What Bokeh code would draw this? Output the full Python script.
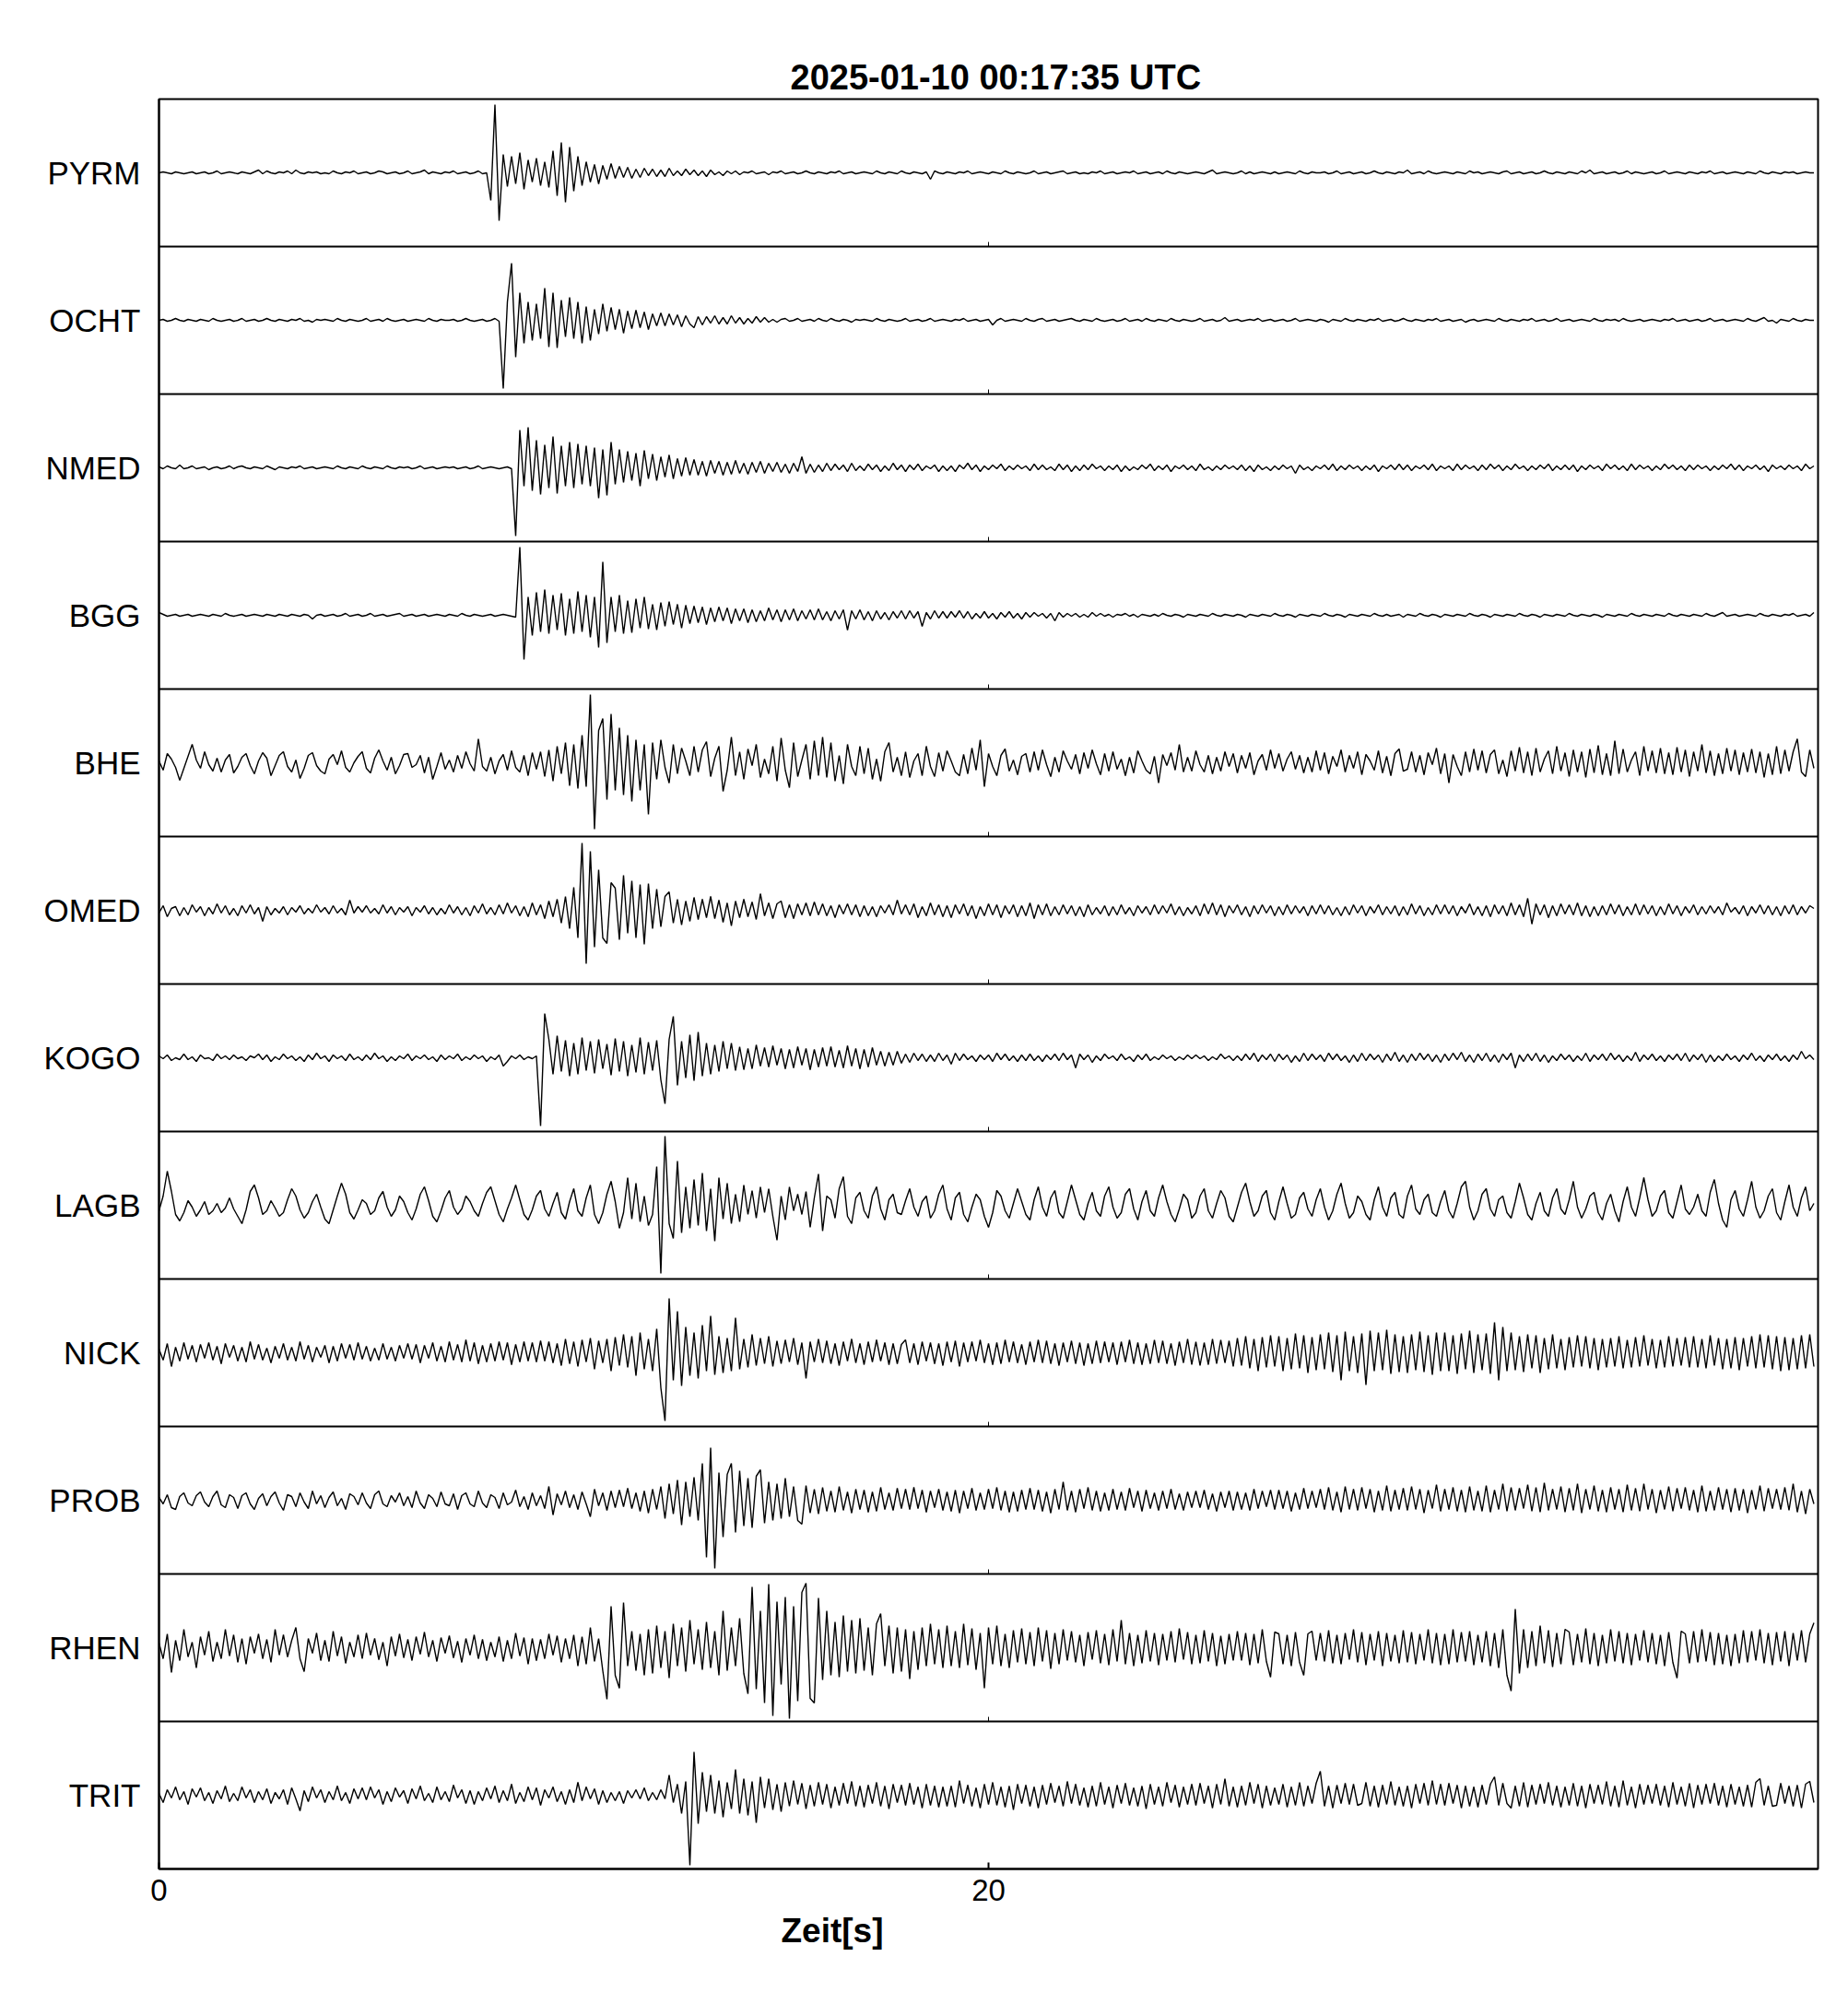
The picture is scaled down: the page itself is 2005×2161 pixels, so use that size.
import numpy as np
from bokeh.plotting import figure
from bokeh.models import FixedTicker, Span, Title, ColumnDataSource
from bokeh.embed import file_html
from bokeh.resources import INLINE

# ---------------- data ----------------
TITLE = "2025-01-10  00:17:35 UTC"
XLABEL = "Zeit[s]"
DT = 0.1            # sample interval [s]
HALF = 80           # amplitudes are given in units where 80 = half a panel
X_TICKS = [0, 20]

STATIONS = ["PYRM", "OCHT", "NMED", "BGG", "BHE", "OMED",
            "KOGO", "LAGB", "NICK", "PROB", "RHEN", "TRIT"]

PYRM = [0,1,0,-1,1,0,-1,0,1,-1, 0,1,-1,0,2,-1,0,1,0,-1, 1,0,-1,1,3,-1,2,0,-1,1, 0,2,-1,3,0,-1,1,0,1,-1,
        0,-1,2,0,-1,1,0,2,-1,0, 1,-1,0,2,1,-1,0,1,-1,0, 2,-1,0,1,3,-1,1,0,-1,1, 0,2,-1,0,1,-1,0,2,-1,0,
        -30,74,-52,20,-15,18,-12,22,-18,14, -10,16,-14,12,-16,24,-25,33,-32,28, -20,18,-14,12,-10,9,-12,8,-7,10,
        -6,7,-5,6,-6,4,-5,5,-3,4, -4,3,-4,5,-3,2,-3,4,-2,3, -3,2,-4,3,-2,1,-3,2,-1,2, -2,1,0,2,-1,0,1,-2,1,0,
        2,-1,0,1,-1,0,2,0,-1,1, 0,-1,1,0,2,-1,0,1,-1,0, 1,0,-1,2,0,-1,1,0,-1,2, 0,-1,1,0,-1,1,-7,2,0,-1,
        1,0,-1,1,0,2,-1,0,1,0, -1,1,0,-1,2,0,-1,1,0,-1, 0,2,-1,0,1,-1,0,1,2,-1, 0,1,-1,0,-1,1,0,2,-1,0,
        1,-1,0,1,0,2,-1,0,1,-1, 0,1,-1,2,0,-1,1,0,-1,0, 1,0,-1,1,3,-1,0,1,0,-1, 0,2,-1,1,-1,0,1,0,-1,1,
        -1,0,1,0,-1,2,0,-1,1,0, 0,1,-1,0,2,-1,0,1,-1,0, 1,-1,0,2,0,-1,1,0,-1,1, 0,3,-1,0,1,-1,2,0,-1,0,
        1,0,-1,1,0,-1,2,0,1,-1, 0,1,0,-1,1,2,-1,0,1,-1, 0,1,-1,0,2,0,-1,1,0,-1, 1,0,-1,2,0,3,-1,0,1,-1,
        0,1,-1,0,2,-1,1,0,-1,0, 1,-1,0,2,-1,0,1,0,-1,1, 0,-1,1,0,2,-1,0,1,-1,0, 1,0,-1,1,0,-1,2,0,-1,1,
        0,-1,1,0,1,-1,0,1,0,0]

OCHT = [0,1,-1,0,2,0,-1,1,0,-1, 1,0,-1,2,0,-1,0,1,-1,0, 2,-1,0,1,-1,0,2,0,-1,1, 0,-1,1,0,2,-1,0,-2,1,0,
        1,0,-1,2,0,-1,1,0,-1,0, 2,-1,0,1,-1,2,0,-1,0,1, -1,0,1,0,-1,2,0,-1,1,0, 0,1,-1,0,2,0,-1,0,1,-1,
        0,2,-1,-74,20,62,-40,30,-25,20, -22,18,-20,35,-29,30,-30,22,-18,25, -20,20,-25,15,-22,12,-15,18,-12,14,
        -10,12,-14,10,-9,11,-8,9,-10,7, -6,8,-6,7,-5,6,-7,5,-4,-8, 4,-5,4,-3,5,-4,3,-4,5,-3, 3,-4,2,-3,4,-2,3,-2,1,-2,
        1,2,-1,0,2,-1,0,1,-1,2, 0,-1,2,0,-1,1,0,-2,1,0, 1,0,-1,2,0,-1,1,0,-1,0, 2,-1,0,1,-1,0,2,-1,0,1,
        0,-1,1,0,2,-1,0,1,-1,0, 1,-5,0,2,-1,0,1,0,-1,2, 0,-1,1,2,-1,0,1,-1,0,1, 2,0,-1,1,0,-1,2,0,-1,0,
        1,-1,0,2,-1,0,1,-1,2,0, -1,1,0,-1,2,0,-1,1,0,-1, 0,2,-1,0,1,-1,0,3,-1,0, 1,-1,0,1,0,2,-1,0,1,-1,
        0,1,-1,0,2,-1,0,1,0,-1, 1,0,-2,1,0,-1,2,0,-1,1, 0,-1,1,0,2,-1,0,1,-1,0, 2,0,-1,1,0,-1,1,0,2,-1,
        0,1,-1,0,1,-2,0,1,-1,0, 1,0,-1,2,0,-1,1,0,-1,1, 0,2,-1,0,1,-1,0,2,-1,0, 1,-1,0,1,0,-1,2,0,-1,1,
        0,1,-1,2,0,-1,0,1,-1,0, 1,0,-1,1,0,2,-1,0,1,-1, 0,1,-1,0,2,-1,0,1,-1,0, 1,0,-1,2,0,-1,1,3,-1,0,
        -3,1,0,-1,2,0,-1,1,0,0]

NMED = [1,-1,2,0,-1,3,-1,0,2,-1, 0,1,-2,0,1,-1,0,2,-1,1, 2,0,-1,1,0,-1,2,0,-2,1, 0,-1,1,0,2,-1,0,1,-1,0,
        1,0,-1,2,0,-1,1,0,-1,2, 0,-1,1,0,-1,2,0,-1,1,0, 1,-1,0,2,-1,0,1,-1,0,1, 0,1,-1,0,1,-1,0,2,-1,0,
        1,0,-1,0,1,-1,-74,41,-20,44, -25,30,-29,25,-22,34,-28,24,-20,28, -22,26,-18,24,-20,22,-33,20,-30,28,
        -18,20,-16,18,-14,16,-20,19,-12,15, -14,12,-10,14,-12,10,-9,11,-8,9, -8,7,-9,8,-6,7,-8,6,-7,8,
        -6,5,-7,6,-5,7,-6,5,-4,6, -5,4,-6,5,-4,12,-6,4,-5,3, -4,5,-3,4,-2,3,-4,5,-3,2, -3,4,-2,3,-4,2,-3,5,-2,3,
        -4,3,-2,4,-3,2,-1,3,-4,2, -3,2,-4,3,-1,5,-2,3,-4,2, -2,3,-1,4,-3,2,-2,3,-1,2, -3,4,-2,3,-2,1,-3,4,-2,3,
        -4,2,-3,3,-2,4,-1,2,-3,2, -2,3,-4,2,-3,1,-2,3,-1,4, -3,2,-2,3,-4,2,-1,3,-2,2, -3,4,-2,1,-3,2,-2,3,-1,2,
        -2,3,-3,2,-4,3,-2,1,-3,2, -2,3,-1,2,-6,3,-2,1,-3,2, -1,3,-2,4,-3,2,-2,3,-1,2, -3,2,-2,3,-4,2,-1,3,-2,4,
        -2,3,-3,2,-1,3,-2,4,-3,2, -1,2,-3,4,-2,3,-1,2,-3,3, -2,4,-1,3,-3,2,-2,4,-1,2, -3,2,-2,3,-1,4,-3,2,-2,3,
        -2,3,-4,2,-2,3,-1,2,-3,4, -1,3,-2,2,-3,4,-2,3,-1,2, -3,2,-2,4,-1,3,-2,2,-3,3, -2,3,-1,2,-3,2,-2,3,-1,4,
        -2,3,-3,2,-1,3,-2,2,-4,3, -1,2,-2,3,-1,2,-3,4,-1,2]

BGG = [3,1,-1,0,1,-1,0,1,-1,0, 1,0,-1,1,0,-1,2,0,-1,0, 1,-1,0,1,0,-1,1,0,-1,1, 0,-1,1,0,-1,1,0,-4,0,1,
       -1,0,1,-1,0,2,-1,0,1,-1, 0,2,-1,0,1,-1,0,1,2,-1, 0,1,-1,0,1,-1,0,1,0,-1, 1,0,-1,2,0,-1,1,0,-1,0,
       1,-1,0,1,0,-1,-2,74,-48,20, -22,25,-18,28,-20,22,-16,24,-22,18, -20,26,-18,22,-24,20,-35,58,-30,20,
       -18,22,-20,16,-19,18,-14,20,-15,12, -16,14,-12,15,-10,12,-14,11,-9,10, -8,9,-10,8,-7,9,-6,8,-9,7,
       -6,7,-8,6,-7,5,-6,8,-5,6, -7,6,-5,7,-6,5,-4,6,-5,7, -5,4,-6,5,-4,6,-16,5,-4,6, -5,4,-6,5,-4,3,-5,4,-3,5,
       -4,5,-3,4,-12,3,-4,5,-3,4, -3,4,-2,5,-3,4,-4,2,-3,4, -3,2,-4,3,-2,4,-3,2,-4,3, -2,3,-1,2,-3,2,-6,3,-2,2,
       -1,2,-2,1,-2,3,-1,2,-1,1, -2,1,0,2,-1,1,-2,1,0,-1, 1,-1,2,0,-1,1,0,-2,1,0, -1,1,0,-1,2,0,-1,1,0,-1,
       1,0,-2,1,0,-1,1,0,-1,2, 0,-1,1,0,-2,1,0,-1,1,0, -1,2,0,-1,1,0,-2,1,0,-1, 1,0,-1,2,0,-1,1,-1,0,1,
       -2,1,0,-1,2,0,-1,1,0,-2, 1,0,-1,1,0,-1,2,0,-1,1, 0,-2,1,0,-1,1,0,-1,2,0, -1,1,0,-2,1,0,-1,1,0,-1,
       2,0,-1,1,0,-1,1,0,-2,1, 0,-1,1,0,-1,2,0,-1,1,0, -1,1,0,-1,2,0,-1,1,0,-1, 1,0,-1,2,0,-1,1,3,-1,0,
       1,-1,0,1,0,-1,2,0,-1,1, 0,-1,1,0,2,-1,0,1,-1,3]

BHE = [2,-8,10,4,-5,-19,-6,7,20,3, -6,12,-2,-9,5,-10,3,9,-11,-4, 6,10,-3,-12,2,11,5,-14,-3,8, 12,-4,-10,3,-17,-6,8,11,-3,-9,
       -12,4,9,-2,13,-5,-10,0,7,12, -6,-11,5,14,2,-8,6,-12,-3,9, 10,-5,-2,8,-11,6,-18,-4,11,-7, 3,-10,8,-6,12,-1,-9,26,-4,-9,
       6,-12,2,9,-8,13,-5,-10,8,-14, 11,-7,12,-15,14,-20,18,-12,22,-25, 20,-28,30,-26,74,-72,35,48,-40,53,
       -30,38,-35,30,-42,25,-30,20,-56,22, -18,25,-5,-22,20,-12,16,2,-14,18, -10,14,23,-15,5,18,-31,-8,28,-14,
       12,-18,15,-3,20,-16,4,-12,18,-20, 27,-8,-27,22,-15,3,20,-18,24,-14, 28,-16,22,-20,8,-23,20,-4,-14,18,
       -12,16,-18,4,-20,12,22,-10,6,-14, 12,-16,2,10,-14,18,-4,-15,11,-9, 13,2,-10,-14,9,-12,16,-8,25,-26,
       10,-4,-14,8,15,-9,3,-13,7,10, -10,12,-8,14,-2,-15,6,-10,13,2, -7,9,-12,11,-6,14,-1,-13,10,-9,
       12,-7,4,-14,6,-11,13,2,-8,-12, 7,-22,9,-3,11,-8,20,-10,6,-9, 13,-2,-10,8,-12,6,-9,12,-4,10,
       -11,8,-6,11,-13,2,9,-8,14,-6, 10,-9,4,12,-7,8,-11,6,-10,13, -8,11,-12,7,-4,14,-10,8,-6,12,
       -13,9,2,-8,13,-11,7,-14,10,15, -9,-7,12,-10,8,-13,11,-2,16,-12, 10,-22,9,-4,-14,12,-10,15,-8,13,
       -11,9,14,-12,3,-15,13,-9,17,-11, 12,-14,16,-10,4,13,-12,18,-9,11, -15,14,-10,12,-16,15,-11,19,-13,10,
       -14,24,-12,15,-10,3,12,-14,18,-9, 13,-11,16,-12,11,-13,17,-10,14,-15, 12,-9,20,-11,13,-14,10,-12,16,-9,
       14,-13,11,-10,15,-11,12,-16,10,-13, 18,-12,14,-9,12,26,-10,-15,14,-6]

OMED = [-3,5,-7,2,4,-6,3,-5,6,-2, 4,-6,3,-4,7,-3,5,-5,2,-6, 5,-3,6,-4,3,-12,4,-5,2,-3, 4,-5,3,-2,5,-4,2,-3,6,-2,
        3,-4,5,-3,2,-5,11,-3,4,-2, 5,-3,2,-4,6,-3,4,-5,3,-2, 4,-6,3,-2,5,-4,3,-5,2,-4, 6,-3,4,-5,3,-6,5,-3,7,-4,
        3,-5,6,-4,8,-3,5,-6,4,-7, 8,-5,6,-9,10,-7,12,-14,15,-20, 25,-30,73,-58,64,-40,44,-30,-36,30,
        24,-32,38,-25,32,-30,28,-37,29,-20, 23,-18,15,20,-14,12,-16,10,-12,14, -10,12,-8,15,-9,11,-13,8,-17,10,
        -8,12,-7,9,-10,18,-6,8,-9,7, 10,-8,6,-9,7,-5,8,-6,9,-5, 7,-6,5,-8,6,-4,7,-5,6,-7, 5,-6,4,-7,5,-3,6,-5,11,-4,
        6,-5,7,-8,4,-6,8,-5,6,-7, 5,-8,6,-4,7,-6,5,-9,4,-6, 7,-5,6,-8,5,-4,6,-7,5,-6, 8,-9,6,-5,7,-6,4,-5,6,-4,
        5,-6,4,-7,6,-5,3,-4,5,-6, 4,-5,6,-4,3,-6,5,-3,4,-5, 6,-4,5,-3,7,-5,4,-6,3,-4, 5,-6,7,-4,8,-5,6,-7,5,-3,
        6,-5,4,-7,5,-4,6,-3,5,-6, 4,-5,6,-4,5,-3,4,-6,5,-4, 6,-4,5,-5,3,-6,4,-5,6,-3, 5,-6,4,-3,6,-5,4,-4,5,-6,
        4,-5,7,-4,5,-6,3,-5,6,-4, 6,-4,5,-6,4,-3,7,-5,4,-6, 5,-7,6,-4,5,-6,8,-5,6,-7, 13,-15,7,-5,6,-8,5,-6,7,-4,
        6,-5,8,-6,5,-7,4,-6,5,-5, 7,-4,6,-6,4,-5,7,-5,6,-4, 5,-6,4,-5,7,-4,5,-6,4,-3, 6,-5,4,-4,5,-3,4,-5,8,-2,
        3,-4,5,-6,4,-3,6,-4,5,-5, 4,-6,5,-4,6,-5,4,-3,5,2]

KOGO = [2,-1,3,-3,0,-2,4,-2,1,-4, 3,-1,0,-3,4,-1,2,-2,3,-1, 1,-3,2,0,4,-2,3,-4,1,-2, 4,-1,2,-3,1,-4,3,-2,5,-1,
        2,-4,3,-1,2,-3,4,-2,1,-3, 3,-2,5,-1,2,-4,1,-3,2,-1, 4,-3,2,-1,3,-2,1,-4,3,-2, 2,-1,4,-3,1,-2,3,-1,2,-4,
        1,-2,3,-9,-4,2,-1,3,-2,1, -1,2,-74,48,20,-18,24,-15,19,-20, 16,-18,22,-14,18,-17,20,-12,15,-19,
        21,-15,18,-20,14,-16,22,-18,17,-14, 19,-24,-50,20,45,-30,18,-22,25,-25, 28,-20,16,-18,14,-15,18,-12,16,-14,
        12,-13,10,-12,14,-9,11,-10,13,-8, 10,-12,9,-11,12,-8,10,-13,9,-10, 11,-9,12,-10,8,-11,13,-9,10,-12, 9,-10,11,-8,7,-9,6,-8,7,-6,
        4,-5,5,-3,4,-4,3,-4,5,-3, 3,-7,5,-3,4,-2,2,-4,3,-2, 3,-4,5,-2,4,-3,2,-4,3,-3, 4,-3,2,-4,3,-2,4,-3,5,-2,
        3,-11,4,-2,3,-5,2,-3,4,-1, 2,-3,4,-2,1,-4,3,-2,4,-3, 1,-2,3,-1,2,-3,1,-2,3,-1, 3,-1,2,-3,1,-2,4,-1,2,-3,
        2,-3,4,-2,5,-4,3,-2,4,-4, 4,-2,3,-5,2,-4,5,-3,4,-2, 3,-4,5,-2,4,-3,2,-5,3,-4, 5,-3,4,-2,3,-5,4,-3,6,-4,
        3,-5,4,-3,5,-2,4,-4,3,-5, 4,-3,5,-2,6,-4,3,-5,4,-3, 5,-4,3,-5,4,-2,5,-11,3,-4, 4,-3,5,-4,3,-5,2,-3,4,-2,
        3,-4,2,-3,5,-4,3,-2,4,-3, 5,-2,3,-4,2,-3,6,-4,3,-2, 4,-3,2,-4,3,-2,4,-3,5,-4, 3,-2,4,-5,3,-4,2,-3,4,-2,
        2,-4,3,-2,5,-3,2,-4,3,-2, 4,-3,2,-4,3,-2,7,-1,3,-2]

LAGB = [-6,10,37,15,-10,-17,-8,5,-2,-12, -5,4,-10,-6,2,-8,-3,8,-4,-12, -20,-5,15,22,8,-10,-6,5,-3,-12, -8,6,18,10,-5,-14,-8,4,12,-2,
        -15,-20,-5,10,24,12,-8,-15,-5,6, 2,-10,-6,8,15,-2,-12,-5,10,4, -8,-16,-4,12,20,5,-12,-18,-6,8, 16,-2,-10,-4,10,4,-6,-12,2,14,
        20,5,-10,-18,-4,8,22,6,-10,-16, -5,10,16,-4,-12,2,14,-8,-15,4, 18,-6,-12,8,22,-10,-20,-8,12,26,
        4,-25,-8,30,-15,24,-18,10,-22,-10, 42,-74,75,-20,-36,48,-30,20,-25,28, -22,35,-28,18,-39,30,-15,24,-20,12,
        -18,22,-10,16,-14,20,-8,18,-12,-38, 10,-16,20,-6,12,-10,15,-24,8,34, -28,10,6,-14,18,31,-12,-20,8,14, -6,-14,10,20,-4,-16,6,12,-8,-10,
        5,18,-2,-12,4,10,-14,-6,12,22, -4,-16,8,14,-10,-18,-2,12,6,-12, -24,-8,16,10,-6,-14,2,18,4,-10, -16,6,20,-2,-12,8,16,-8,-14,4,
        22,6,-10,-16,2,14,-6,-12,10,20, -2,-14,-8,12,18,-4,-16,4,16,-6, -12,8,22,4,-10,-18,-4,12,6,-14, -8,10,18,-6,-14,2,16,8,-12,-18,
        -2,14,24,4,-12,-6,10,16,-8,-16, 4,20,2,-14,-10,8,14,-4,-12,6, 18,-2,-16,-6,12,24,2,-14,-8,10, 4,-10,-16,6,20,-2,-12,8,14,-10,
        -14,10,22,-4,-10,6,12,-8,-12,4, 16,-6,-14,2,20,26,-2,-16,-6,12, 18,-4,-12,6,10,-8,-14,4,24,8, -10,-16,2,14,-6,-12,8,18,-4,-10,
        6,26,-2,-14,-4,10,14,-8,-16,2, 12,-6,-18,4,20,-2,-12,8,30,6, -12,-6,10,16,-8,-14,4,22,-4,-10, -2,12,-6,-12,14,28,2,-16,-24,6,
        16,-4,-12,6,26,-2,-14,-6,10,18, -8,-16,4,22,-2,-12,8,20,-6,2]

NICK = [4,-8,10,-15,6,-9,11,-7,8,-10, 9,-6,11,-8,7,-12,10,-5,8,-9, 6,-10,12,-7,9,-8,5,-11,7,-6, 10,-8,6,-9,12,-7,8,-10,6,-5,
        8,-11,7,-9,10,-6,9,-8,11,-7, 7,-9,5,-8,10,-7,6,-9,8,-6, 10,-7,9,-11,8,-6,11,-9,7,-10, 12,-8,9,-10,14,-9,11,-12,8,-10,
        10,-9,12,-8,11,-13,9,-10,12,-9, 11,-10,13,-9,12,-11,10,-14,15,-12, 12,-15,14,-10,16,-18,13,-11,15,-20,
        17,-14,20,-16,18,-25,22,-18,15,-20, 26,-38,-74,59,-30,45,-36,28,-25,22, -28,30,-20,40,-24,18,-22,16,-20,38,
        -18,15,-16,20,-14,16,-12,18,-15,13, -12,14,-10,16,-13,11,-28,12,-10,15, -11,13,-12,10,-14,12,-9,15,-11,10, -13,12,-10,14,-9,11,-13,10,-12,9,
        14,-11,10,-13,12,-9,11,-12,10,-14, 12,-10,13,-15,11,-10,12,-9,14,-11, 10,-13,11,-12,14,-10,12,-11,9,-13, 12,-10,14,-11,13,-12,10,-14,11,-10,
        13,-12,11,-14,10,-12,13,-11,12,-10, 11,-13,12,-10,14,-12,11,-13,10,-12, 14,-11,13,-12,10,-14,12,-11,15,-13, 12,-14,11,-13,15,-12,14,-11,13,-15,
        16,-14,18,-17,15,-20,17,-16,19,-15, 18,-20,16,-18,21,-17,19,-22,17,-19, 20,-18,22,-21,19,-30,23,-20,18,-22, 21,-35,24,-20,22,-19,25,-23,20,-21,
        18,-22,20,-19,23,-21,19,-24,22,-20, 22,-20,19,-23,21,-18,24,-22,20,-19, 21,-23,33,-30,28,-20,22,-19,18,-21, 20,-17,19,-22,16,-18,20,-17,15,-19,
        17,-16,19,-15,18,-17,16,-19,15,-16, 16,-15,18,-17,14,-16,17,-15,19,-14, 15,-17,14,-16,18,-15,16,-14,17,-16, 18,-16,15,-17,19,-14,16,-18,15,-17,
        17,-19,16,-15,18,-17,20,-16,19,-18, 18,-20,17,-19,16,-18,19,-17,20,-15]

PROB = [3,-4,6,-8,-10,4,8,-3,-6,5, 9,-2,-7,4,10,-5,-8,6,3,-9, 5,8,-4,-10,2,7,-6,4,9,-3, -11,6,4,-7,8,-2,-9,10,-4,5,
        -8,3,9,-6,2,-10,7,4,-5,8, -3,-9,6,10,-4,-7,5,-2,8,-6, 4,-8,10,-3,-9,6,2,-7,9,-4, -6,7,-10,5,8,-4,-7,10,-3,-8,
        6,3,-9,8,-5,-2,11,-7,4,-10, 8,-6,5,-9,15,-16,7,-5,10,-8, 6,-10,9,-4,-18,12,-6,8,-11,10,
        -8,11,-7,13,-9,8,-12,10,-14,12, -10,15,-20,18,-15,22,-27,20,-18,25, -22,40,-62,57,-74,30,-40,28,40,-35,
        32,-28,24,-30,26,33,-25,20,-22,18, -20,24,-18,15,-22,-26,16,-14,12,-15, 14,-12,10,-13,15,-11,9,-14,12,-10, 11,-13,9,-12,14,-10,8,-11,13,-9,
        12,-10,14,-9,11,-13,10,-8,12,-11, 9,-12,11,-14,10,-9,13,-11,8,-10, 12,-9,14,-11,10,-13,9,-12,11,-10, 13,-10,11,-12,9,-14,12,-10,20,-11,
        10,-13,12,-9,14,-11,10,-12,8,-11, 12,-10,9,-11,13,-8,10,-12,11,-9, 8,-11,10,-9,12,-10,7,-11,9,-8, 10,-8,11,-10,7,-12,9,-8,10,-11,
        9,-10,8,-11,12,-9,10,-7,11,-10, 11,-9,10,-12,8,-10,13,-9,10,-8, 12,-10,14,-11,9,-13,15,-10,12,-11, 14,-9,12,-13,10,-11,16,-12,11,-10,
        13,-11,15,-10,12,-14,11,-9,17,-12, 12,-10,14,-12,11,-13,15,-11,10,-12, 16,-13,11,-10,18,-12,14,-11,13,-9, 17,-12,14,-13,19,-11,12,-10,15,-13,
        13,-11,18,-14,12,-10,16,-12,11,-13, 14,-10,12,-13,17,-11,13,-12,18,-10, 12,-14,11,-10,15,-12,13,-9,14,-11, 11,-13,16,-12,10,-11,14,-10,12,-13,
        13,-11,12,-14,11,-10,16,-12,13,-9, 12,-10,14,-11,18,-13,10,-15,12,-4]

RHEN = [5,-12,15,-27,8,-14,20,-10,6,-22, 12,-8,18,-15,6,-12,20,-9,14,-16, 10,-18,12,-6,15,-12,9,-16,20,-8, 14,-10,8,22,-12,-26,10,-6,16,-14,
        8,-15,18,-9,12,-17,6,-10,14,-12, 16,-8,10,-13,6,-20,12,-9,15,-11, 9,-14,12,-7,17,-10,8,-15,11,-6, 13,-11,7,-16,10,-8,14,-12,9,-14,
        6,-10,12,-15,8,-12,16,-9,11,-18, 10,-14,9,-12,15,-8,13,-16,10,-12, 14,-20,12,-18,22,-15,10,-25,-56,45,
        -30,-44,49,-20,18,-25,15,-30,20,-28, 24,-22,18,-33,26,-20,22,-26,30,-18, 20,-24,28,-22,18,-30,40,-25,22,-20,
        32,-28,-50,66,-45,40,-60,69,-74,50, -40,55,-77,45,-58,60,70,-55,-60,54, -35,40,-30,28,-32,35,-26,30,-28,32, -25,22,-30,26,37,-20,24,-28,22,-26,
        20,-34,18,-24,22,-20,26,-18,20,-22, 24,-20,18,-22,26,-19,21,-24,16,-44, 22,-18,24,-20,15,-22,19,-16,21,-18, 17,-20,22,-15,19,-23,16,-18,20,-14,
        18,-16,14,-20,17,-13,19,-17,15,-19, 20,-15,30,-18,16,-20,14,-17,19,-15, 16,-19,15,-14,18,-16,21,-13,17,-18, 14,-17,19,-15,16,-20,13,-18,15,-14,
        18,-14,16,-19,15,-17,20,-15,-32,17, 15,-18,14,-20,17,-16,-30,15,18,-14, 16,-15,19,-17,14,-18,16,-13,20,-16, 17,-19,15,-14,18,-20,16,-15,14,-17,
        19,-16,17,-18,15,-14,20,-17,16,-19, 15,-18,20,-16,17,-15,18,-19,14,-16, 18,-20,16,-22,20,-30,-47,42,-28,20, -22,18,-20,24,-17,19,-21,16,-18,20,
        17,-19,15,-16,21,-18,16,-20,14,-17, 20,-15,18,-17,16,-19,15,-14,19,-16, 16,-18,14,-20,17,-16,-33,18,15,-17, 18,-16,20,-15,17,-19,16,-18,14,-20,
        15,-17,19,-16,18,-14,20,-17,16,-19, 17,-15,18,-20,16,-14,19,-16,15,27]

TRIT = [2,-8,6,-3,9,-5,4,-10,7,-2, 8,-6,3,-9,5,-4,10,-7,2,-6, 9,-3,6,-8,4,-5,7,-9,3,-4, 6,-10,8,-4,-17,5,-7,9,-3,6,
        -8,4,-5,10,-6,3,-9,7,-4,8, -5,9,-3,6,-10,4,-7,8,-2,5, -9,7,-4,10,-6,2,-8,9,-5,4, -7,11,-3,6,-9,5,-10,4,-6,8,
        -4,10,-8,5,-6,12,-9,3,-7,9, -5,8,-11,6,-3,9,-7,4,-10,6, -8,14,-6,9,-4,7,-10,5,-8,3,
        -6,4,-9,5,-3,6,-4,8,-6,3, -5,6,-4,22,-8,12,-20,15,-76,47, -31,25,-18,22,-20,16,-24,14,-15,28,
        -20,18,-22,15,-30,20,-14,18,-16,12, -18,14,-12,16,-10,13,-15,11,-12,14, -10,12,-14,9,-11,13,-9,15,-12,10, -13,11,-9,14,-12,10,-15,12,-8,11,
        -11,13,-10,9,-14,12,-11,10,-13,9, -12,10,-13,16,-9,11,-12,8,-14,12, -10,14,-11,9,-13,10,-16,12,-9,11, -12,9,-14,11,-10,13,-8,10,-12,15,
        -9,12,-11,8,-13,10,-12,14,-10,9, -14,11,-9,13,-11,8,-12,10,-15,12, -10,9,-12,14,-8,11,-13,9,-10,12, -11,13,-9,10,-14,12,-10,18,-12,9,
        -13,10,-11,14,-9,12,-14,10,-11,8, -10,12,-13,9,-11,14,-12,10,-9,13, 26,-12,10,-14,11,-9,13,-10,12,-11, -9,14,-12,10,-13,11,-10,15,-11,9,
        -12,10,-14,12,-9,13,-11,16,-10,12, -11,13,-9,11,-14,10,-12,9,-13,11, -10,12,20,-11,13,-9,-14,10,-12,14, -13,11,-10,12,-9,14,-11,10,-13,9,
        -11,13,-12,10,-14,12,-9,11,-10,15, -12,10,-13,16,-11,9,-14,12,-10,11, -9,12,-11,10,-13,14,-10,9,-12,13, -14,11,-10,12,-9,13,-11,10,-13,12,
        -10,9,-12,11,-13,14,18,-11,10,-12, -11,13,-9,10,-12,11,-14,12,15,-8]

TRACES = [PYRM, OCHT, NMED, BGG, BHE, OMED, KOGO, LAGB, NICK, PROB, RHEN, TRIT]

# ---------------- figure ----------------
N = len(STATIONS)
FONT = "Liberation Sans"

p = figure(frame_width=1800, frame_height=1920,
           x_range=(0, 40), y_range=(0, N),
           output_backend="svg", toolbar_location=None,
           min_border_left=172, min_border_right=20,
           min_border_top=107, min_border_bottom=110)

p.title = Title(text=TITLE, align="left", text_font=FONT, text_font_size="38px",
                text_font_style="bold", text_color="black", offset=685, standoff=5)

p.xgrid.visible = False
p.ygrid.visible = False
p.background_fill_color = "white"
p.border_fill_color = "white"
p.outline_line_color = "black"
p.outline_line_width = 2

for k, (name, amp) in enumerate(zip(STATIONS, TRACES)):
    amp = np.asarray(amp, dtype=float)
    t = np.arange(len(amp)) * DT
    base = N - k - 0.5
    p.line(t, base + amp / HALF * 0.5, line_color="black", line_width=1.4)

# panel separators
for j in range(1, N):
    p.add_layout(Span(location=j, dimension="width", line_color="black", line_width=2))

# inward time ticks at the bottom of every inner panel
inner = ColumnDataSource(dict(
    x=[tx for j in range(1, N) for tx in X_TICKS if tx > 0],
    y0=[j for j in range(1, N) for tx in X_TICKS if tx > 0],
    y1=[j + 5 / 160 for j in range(1, N) for tx in X_TICKS if tx > 0]))
p.segment(x0="x", y0="y0", x1="x", y1="y1", source=inner, line_color="black", line_width=1)

# x axis
xa = p.xaxis[0]
xa.ticker = FixedTicker(ticks=X_TICKS)
xa.minor_tick_line_color = None
xa.major_tick_in = 7
xa.major_tick_out = 0
xa.major_tick_line_width = 2
xa.axis_line_width = 2
xa.major_label_text_font = FONT
xa.major_label_text_font_size = "33px"
xa.major_label_text_color = "black"
xa.major_label_standoff = 11

# y axis: station names
ya = p.yaxis[0]
centers = [N - k - 0.5 for k in range(N)]
ya.ticker = FixedTicker(ticks=centers)
ya.major_label_overrides = {c: s for c, s in zip(centers, STATIONS)}
ya.minor_tick_line_color = None
ya.major_tick_in = 0
ya.major_tick_out = 0
ya.axis_line_width = 2
ya.major_label_text_font = FONT
ya.major_label_text_font_size = "35px"
ya.major_label_text_color = "black"
ya.major_label_standoff = 20

p.add_layout(Title(text=XLABEL, align="left", offset=675, text_font=FONT,
                   text_font_size="37px", text_font_style="bold",
                   text_color="black", standoff=15), "below")

open("out.html", "w").write(file_html(p, INLINE))
